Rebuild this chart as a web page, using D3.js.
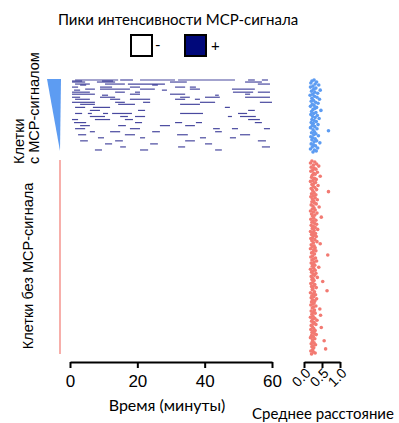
<!DOCTYPE html>
<html>
<head>
<meta charset="utf-8">
<script src="https://d3js.org/d3.v7.min.js"></script>
<style>
  body { margin: 0; background: #fff; }
  .lbl { font-family: "Liberation Sans", Arial, sans-serif; }
  .cal { font-family: Lato, "Open Sans", sans-serif; }
</style>
</head>
<body>
<svg id="chart" width="399" height="423"></svg>
<script>
// MCP signal peaks per cell: [cell index, start min, end min]
var eventRows = [
  [0,1.5,14.3],[0,14.9,18.7],[0,20.8,31.2],[0,32.1,49.0],[0,52.9,54.9],[0,57.0,58.8],
  [1,0.6,3.6],[1,9.5,12.8],
  [2,0.6,4.5],[2,8.0,13.4],[2,29.7,34.7],[2,52.0,57.0],
  [4,1.5,5.9],[4,10.4,16.3],[4,17.2,28.2],[4,55.8,59.4],
  [5,3.0,4.8],[5,24.4,26.1],
  [7,0.6,2.4],[7,8.9,12.5],[7,17.8,20.8],[7,31.2,34.2],[7,35.6,37.4],
  [9,4.5,7.4],[9,8.9,17.8],[9,20.8,25.2],[9,35.6,38.6],[9,48.1,54.9],
  [10,1.2,3.0],[10,27.3,28.8],
  [12,0.6,5.9],[12,13.4,16.3],[12,19.3,20.8],[12,48.4,54.4],[12,55.8,59.4],
  [14,0.6,7.4],[14,17.8,20.8],[14,29.7,34.2],[14,52.0,53.5],
  [15,9.5,11.3],[15,43.1,44.2],
  [17,0.6,3.0],[17,8.9,13.4],[17,32.7,35.6],[17,40.1,44.5],[17,52.0,59.4],
  [19,1.5,5.9],[19,11.9,14.9],[19,17.8,23.8],[19,31.2,34.2],[19,37.1,38.6],
  [22,0.6,7.4],[22,13.4,16.3],[22,21.7,23.8],[22,38.6,43.1],[22,56.4,60.0],
  [24,3.0,7.4],[24,14.3,19.3],[24,32.7,38.6],
  [27,1.5,4.5],[27,6.8,11.9],[27,46.0,47.5],
  [30,5.9,8.9],[30,20.2,22.3],[30,52.9,54.9],
  [33,1.5,3.6],[33,5.3,6.5],[33,9.8,11.3],[33,12.5,18.4],[33,32.7,39.5],[33,49.9,52.6],
  [36,5.9,10.4],[36,14.9,17.2],[36,19.3,22.3],[36,46.9,48.1],[36,50.5,55.2],
  [39,0.6,2.4],[39,7.4,11.9],[39,16.3,18.7],[39,52.9,56.4],
  [42,1.2,4.8],[42,19.3,21.4],[42,31.2,33.3],[42,37.4,39.2],[42,54.9,57.0],
  [45,3.0,5.9],[45,14.3,16.6],[45,26.7,29.7],[45,34.2,37.1],
  [48,1.5,4.5],[48,17.8,20.8],[48,42.5,44.5],[48,48.1,49.9],[48,57.6,59.4],
  [51,5.9,7.4],[51,11.9,14.9],[51,24.4,26.7],[51,43.1,45.1],
  [54,2.4,4.8],[54,16.3,19.3],[54,31.8,35.0],[54,50.5,53.5],
  [57,8.3,10.1],[57,20.8,22.3],[57,38.6,40.4],[57,47.5,49.3],
  [60,3.0,5.3],[60,13.4,15.7],[60,34.2,37.1],[60,55.8,58.2],
  [63,10.4,12.5],[63,23.8,26.1],[63,40.1,42.2],
  [66,14.9,16.6],[66,32.1,34.2],[66,57.0,59.4],
  [69,7.4,9.5],[69,20.8,23.2],[69,43.1,45.1]
];
// mean distance per cell
var blueDist = [0.28,0.22,0.35,0.19,0.31,0.41,0.25,0.18,0.33,0.27,0.45,0.21,0.30,0.38,0.24,0.17,0.29,0.36,
  0.22,0.43,0.26,0.20,0.32,0.39,0.23,0.28,0.18,0.35,0.30,0.25,0.47,0.21,0.33,0.27,0.19,0.37,0.24,0.31,
  0.42,0.22,0.28,0.34,0.20,0.26,0.39,0.23,0.30,0.18,0.36,0.25,0.68,0.29,0.21,0.33,0.27,0.40,0.19,0.24,
  0.31,0.22,0.35,0.28,0.44,0.20,0.26,0.32,0.23,0.38,0.18,0.29,0.34,0.25];
var redDist = [0.22,0.30,0.18,0.35,0.26,0.41,0.20,0.28,0.33,0.24,0.19,0.37,0.27,0.31,0.23,0.45,0.21,0.29,
  0.34,0.25,0.18,0.32,0.27,0.22,0.39,0.26,0.30,0.20,0.35,0.24,0.68,0.28,0.21,0.33,0.26,0.19,0.31,0.23,
  0.37,0.27,0.22,0.29,0.34,0.20,0.25,0.42,0.28,0.23,0.31,0.18,0.26,0.36,0.21,0.30,0.24,0.48,0.27,0.19,
  0.33,0.25,0.22,0.29,0.35,0.20,0.26,0.31,0.23,0.38,0.28,0.18,0.25,0.32,0.21,0.27,0.34,0.24,0.19,0.30,
  0.22,0.36,0.26,0.45,0.20,0.28,0.23,0.31,0.18,0.27,0.33,0.25,0.21,0.29,0.66,0.24,0.19,0.32,0.26,0.22,
  0.35,0.28,0.20,0.25,0.30,0.23,0.41,0.27,0.18,0.31,0.24,0.21,0.33,0.26,0.29,0.20,0.37,0.25,0.22,0.28,
  0.52,0.24,0.19,0.30,0.27,0.21,0.34,0.25,0.23,0.64,0.29,0.18,0.26,0.32,0.22,0.27,0.20,0.35,0.24,0.30,
  0.21,0.28,0.25,0.19,0.33,0.26,0.23,0.44,0.29,0.20,0.27,0.31,0.22,0.46,0.25,0.18,0.30,0.24,0.36,0.21,
  0.28,0.26,0.33,0.20,0.23,0.48,0.27,0.19,0.31,0.25,0.22,0.29,0.34,0.21,0.26,0.18,0.30,0.24,0.56,0.23,
  0.28,0.20,0.32,0.25,0.22,0.27,0.60,0.24,0.19,0.26,0.31,0.21];
var timeTicks = [0, 20, 40, 60];
var distTicks = [0, 0.5, 1.0];

var svg = d3.select("#chart");
var navy = "#1c1c88", blue = "#5d9cf2", red = "#f27a72";

var x = d3.scaleLinear().domain([0, 60]).range([70, 272]);
var xd = d3.scaleLinear().domain([0, 1]).range([304, 340]);
var yB = d3.scaleLinear().domain([0, blueDist.length - 1]).range([80, 152]);
var yR = d3.scaleLinear().domain([0, redDist.length - 1]).range([161, 354]);

// title + legend
svg.append("text").attr("class", "cal").attr("x", 178).attr("y", 25)
  .attr("text-anchor", "middle").attr("font-size", 15).text("Пики интенсивности MCP-сигнала");
svg.append("rect").attr("x", 131).attr("y", 35).attr("width", 21).attr("height", 21)
  .attr("fill", "#fff").attr("stroke", "#000").attr("stroke-width", 2);
svg.append("text").attr("class", "cal").attr("x", 155).attr("y", 50).attr("font-size", 15).text("-");
svg.append("rect").attr("x", 185).attr("y", 35).attr("width", 21).attr("height", 21)
  .attr("fill", "#00087a").attr("stroke", "#000").attr("stroke-width", 2);
svg.append("text").attr("class", "cal").attr("x", 211).attr("y", 51).attr("font-size", 15).text("+");

// group markers on left
svg.append("polygon")
  .attr("points", [[47, yB(0) - 1], [61, yB(0) - 1], [60, yB(blueDist.length - 1) - 1]].join(" "))
  .attr("fill", blue);
svg.append("line").attr("x1", 60).attr("x2", 60)
  .attr("y1", yR(0) - 1).attr("y2", yR(redDist.length - 1))
  .attr("stroke", red).attr("stroke-width", 1.2);

function vlabel(lines, tx, ty, anchor) {
  var t = svg.append("text").attr("class", "lbl").attr("font-size", 14.5)
    .attr("text-anchor", anchor)
    .attr("transform", "translate(" + tx + "," + ty + ") rotate(-90)");
  lines.forEach(function(s, i) {
    t.append("tspan").attr("x", 0).attr("y", i * 15).text(s);
  });
}
vlabel(["Клетки", "с MCP-сигналом"], 24, 164, "start");
vlabel(["Клетки без MCP-сигнала"], 33, 266, "middle");

// raster
svg.append("g").selectAll("line").data(eventRows).join("line")
  .attr("x1", function(d) { return x(d[1]); })
  .attr("x2", function(d) { return x(d[2]); })
  .attr("y1", function(d) { return yB(d[0]); })
  .attr("y2", function(d) { return yB(d[0]); })
  .attr("stroke", navy).attr("stroke-width", 1.2).attr("opacity", 0.8);

// dots
svg.append("g").selectAll("circle").data(blueDist).join("circle")
  .attr("cx", function(d) { return xd(d); })
  .attr("cy", function(d, i) { return yB(i); })
  .attr("r", 1.8).attr("fill", blue);
svg.append("g").selectAll("circle").data(redDist).join("circle")
  .attr("cx", function(d) { return xd(d); })
  .attr("cy", function(d, i) { return yR(i); })
  .attr("r", 1.8).attr("fill", red);

// axes
var ax = svg.append("g").attr("transform", "translate(0,362)")
  .call(d3.axisBottom(x).tickValues(timeTicks).tickSize(6).tickSizeOuter(0).tickPadding(7));
ax.selectAll("text").attr("font-family", "Liberation Sans, Arial").attr("font-size", 17).attr("fill", "#000");
var axd = svg.append("g").attr("transform", "translate(0,362)")
  .call(d3.axisBottom(xd).tickValues(distTicks).tickFormat(d3.format(".1f")).tickSize(6).tickSizeOuter(0));
axd.selectAll("text").attr("font-family", "Liberation Sans, Arial").attr("font-size", 14).attr("fill", "#000")
  .attr("text-anchor", "end").attr("dy", 0).attr("y", 0)
  .attr("transform", "translate(7,12) rotate(-45)");
svg.selectAll(".domain, .tick line").attr("stroke", "#000").attr("stroke-width", 2);

svg.append("text").attr("class", "cal").attr("x", 167).attr("y", 411)
  .attr("text-anchor", "middle").attr("font-size", 16).text("Время (минуты)");
svg.append("text").attr("class", "cal").attr("x", 323).attr("y", 419)
  .attr("text-anchor", "middle").attr("font-size", 15).text("Среднее расстояние");
</script>
</body>
</html>
